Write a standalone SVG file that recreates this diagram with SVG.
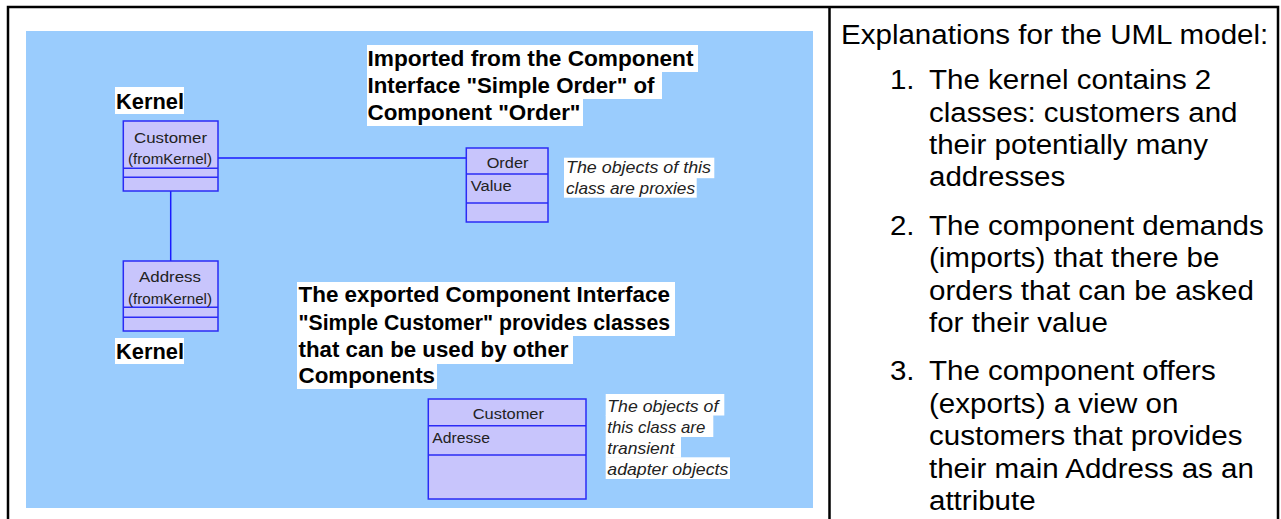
<svg xmlns="http://www.w3.org/2000/svg" width="1281" height="519" viewBox="0 0 1281 519">
<style>
.frame{fill:none;stroke:#000;stroke-width:2.5}
.cls{fill:#c8c5fc;stroke:#2b2bf5;stroke-width:1.5}
.div{stroke:#2b2bf5;stroke-width:1.5}
.conn{stroke:#1a1aff;stroke-width:1.5;fill:none}
.ct{font-family:"Liberation Sans",Arial,sans-serif;font-size:15.5px;fill:#222}
.hd{font-family:"Liberation Sans",Arial,sans-serif;font-size:22px;font-weight:bold;fill:#000}
.nt{font-family:"Liberation Sans",Arial,sans-serif;font-size:17px;font-style:italic;fill:#222}
.wb{fill:#fff}
.ex{font-family:"Liberation Sans",Arial,sans-serif;font-size:28px;fill:#000}
</style>
<rect x="0" y="0" width="1281" height="519" fill="#fff"/>
<path class="frame" d="M8,519 V7 H1278 V519 M829.5,7 V519"/>
<rect x="26" y="31" width="787" height="477" fill="#9accfd"/>

<g id="label-kernel-top">
<rect class="wb" x="115" y="87" width="69" height="27"/>
<text class="hd" x="116" y="108.7" textLength="68" lengthAdjust="spacingAndGlyphs">Kernel</text>
</g>
<g id="label-kernel-bottom">
<rect class="wb" x="115" y="338" width="69" height="26"/>
<text class="hd" x="116" y="359" textLength="68" lengthAdjust="spacingAndGlyphs">Kernel</text>
</g>
<g id="label-imported">
<rect class="wb" x="367" y="45" width="331" height="27"/>
<rect class="wb" x="367" y="71" width="295" height="28"/>
<rect class="wb" x="367" y="98" width="216" height="28"/>
<text class="hd" x="367.5" y="66" textLength="326" lengthAdjust="spacingAndGlyphs">Imported from the Component</text>
<text class="hd" x="367.5" y="93.3" textLength="287" lengthAdjust="spacingAndGlyphs">Interface "Simple Order" of</text>
<text class="hd" x="367.5" y="120" textLength="213" lengthAdjust="spacingAndGlyphs">Component "Order"</text>
</g>
<g id="label-exported">
<rect class="wb" x="297" y="282" width="378" height="26"/>
<rect class="wb" x="297" y="307" width="378" height="29"/>
<rect class="wb" x="297" y="335" width="276" height="29"/>
<rect class="wb" x="297" y="363" width="140" height="26"/>
<text class="hd" x="298.5" y="302.3" textLength="371.5" lengthAdjust="spacingAndGlyphs">The exported Component Interface</text>
<text class="hd" x="298.5" y="330" textLength="371.5" lengthAdjust="spacingAndGlyphs">"Simple Customer" provides classes</text>
<text class="hd" x="298.5" y="356.7" textLength="270" lengthAdjust="spacingAndGlyphs">that can be used by other</text>
<text class="hd" x="298.5" y="383.3" textLength="136.5" lengthAdjust="spacingAndGlyphs">Components</text>
</g>

<g id="connectors">
<line class="conn" x1="218" y1="158" x2="466" y2="158"/>
<line class="conn" x1="170.7" y1="191" x2="170.7" y2="261"/>
</g>

<g id="class-customer-kernel">
<rect class="cls" x="123.3" y="121" width="94.7" height="70"/>
<line class="div" x1="123.3" y1="168.3" x2="218" y2="168.3"/>
<line class="div" x1="123.3" y1="177.3" x2="218" y2="177.3"/>
<text class="ct" x="134" y="142.7" textLength="73" lengthAdjust="spacingAndGlyphs">Customer</text>
<text class="ct" x="128" y="164" font-size="14" textLength="84" lengthAdjust="spacingAndGlyphs">(fromKernel)</text>
</g>
<g id="class-address">
<rect class="cls" x="123.3" y="261" width="94.7" height="70"/>
<line class="div" x1="123.3" y1="307.3" x2="218" y2="307.3"/>
<line class="div" x1="123.3" y1="317.3" x2="218" y2="317.3"/>
<text class="ct" x="139" y="282.3" textLength="62" lengthAdjust="spacingAndGlyphs">Address</text>
<text class="ct" x="128" y="304" font-size="14" textLength="84" lengthAdjust="spacingAndGlyphs">(fromKernel)</text>
</g>
<g id="class-order">
<rect class="cls" x="466.3" y="148" width="81.7" height="74"/>
<line class="div" x1="466.3" y1="174" x2="548" y2="174"/>
<line class="div" x1="466.3" y1="203" x2="548" y2="203"/>
<text class="ct" x="486.7" y="167.7" textLength="41.7" lengthAdjust="spacingAndGlyphs">Order</text>
<text class="ct" x="470.7" y="191.3" textLength="41" lengthAdjust="spacingAndGlyphs">Value</text>
</g>
<g id="note-order">
<rect class="wb" x="564" y="157.7" width="150.3" height="20.5"/>
<rect class="wb" x="564" y="177.7" width="132.7" height="20"/>
<text class="nt" x="566" y="173.3" textLength="145" lengthAdjust="spacingAndGlyphs">The objects of this</text>
<text class="nt" x="566" y="194.3" textLength="129" lengthAdjust="spacingAndGlyphs">class are proxies</text>
</g>
<g id="class-customer-exported">
<rect class="cls" x="428.3" y="399" width="157.7" height="100"/>
<line class="div" x1="428.3" y1="425.7" x2="586" y2="425.7"/>
<line class="div" x1="428.3" y1="455" x2="586" y2="455"/>
<text class="ct" x="472.7" y="419.3" textLength="71.3" lengthAdjust="spacingAndGlyphs">Customer</text>
<text class="ct" x="432.3" y="443.3" textLength="57.7" lengthAdjust="spacingAndGlyphs">Adresse</text>
</g>
<g id="note-customer">
<rect class="wb" x="605.7" y="394" width="118.6" height="21.5"/>
<rect class="wb" x="605.7" y="415" width="107.6" height="22"/>
<rect class="wb" x="605.7" y="436.7" width="75.3" height="21"/>
<rect class="wb" x="605.7" y="457.3" width="124.3" height="21.7"/>
<text class="nt" x="607.3" y="411.7" textLength="111" lengthAdjust="spacingAndGlyphs">The objects of</text>
<text class="nt" x="607.3" y="433.3" textLength="98" lengthAdjust="spacingAndGlyphs">this class are</text>
<text class="nt" x="607.3" y="454" textLength="67" lengthAdjust="spacingAndGlyphs">transient</text>
<text class="nt" x="607.3" y="475" textLength="121" lengthAdjust="spacingAndGlyphs">adapter objects</text>
</g>

<g id="explanations" transform="translate(841 0) scale(1.055 1)">
<text class="ex" x="0" y="44">Explanations for the UML model:</text>
<text class="ex" x="46.4" y="89.3">1.</text>
<text class="ex" x="83.4" y="89.3">The kernel contains 2</text>
<text class="ex" x="83.4" y="121.7">classes: customers and</text>
<text class="ex" x="83.4" y="154.1">their potentially many</text>
<text class="ex" x="83.4" y="186.5">addresses</text>
<text class="ex" x="46.4" y="234.9">2.</text>
<text class="ex" x="83.4" y="234.9">The component demands</text>
<text class="ex" x="83.4" y="267.3">(imports) that there be</text>
<text class="ex" x="83.4" y="299.7">orders that can be asked</text>
<text class="ex" x="83.4" y="332.1">for their value</text>
<text class="ex" x="46.4" y="380.5">3.</text>
<text class="ex" x="83.4" y="380.5">The component offers</text>
<text class="ex" x="83.4" y="412.9">(exports) a view on</text>
<text class="ex" x="83.4" y="445.3">customers that provides</text>
<text class="ex" x="83.4" y="477.7">their main Address as an</text>
<text class="ex" x="83.4" y="510.1">attribute</text>
</g>
</svg>
